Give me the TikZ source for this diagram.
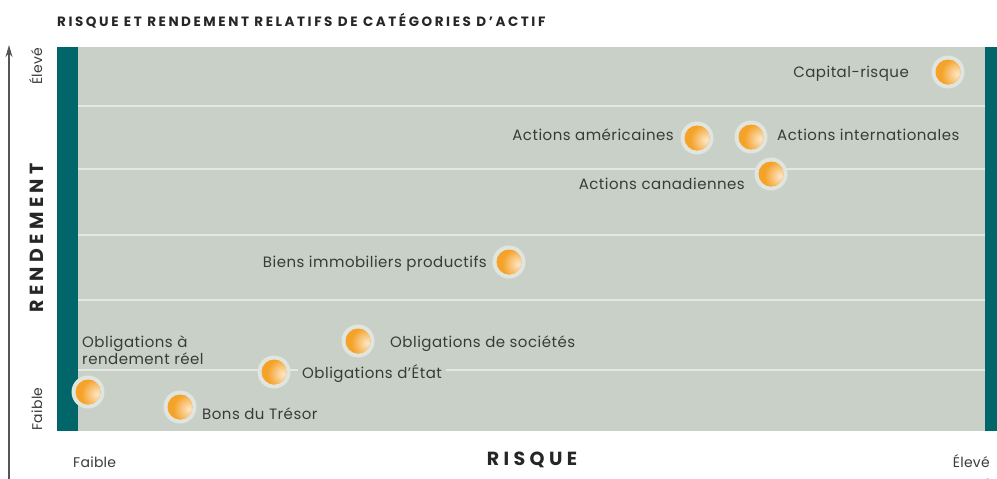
\documentclass[tikz,border=0pt]{standalone}
\usepackage{fontspec}
\setmainfont{Poppins}
\newfontfamily\lblfont[LetterSpace=3.2]{Poppins}
\newfontfamily\titlefont[LetterSpace=19]{Poppins}
\newfontfamily\axfont[LetterSpace=2]{Poppins}
\usetikzlibrary{arrows.meta}
\definecolor{panelgray}{HTML}{C9D0C8}
\definecolor{tealbar}{HTML}{00666A}
\definecolor{gridline}{HTML}{E4E8E2}
\definecolor{ringgray}{HTML}{E1E5DF}
\definecolor{orangedark}{HTML}{F5A228}
\definecolor{orangelight}{HTML}{FDE6C8}
\definecolor{txt}{HTML}{3A3A3A}
\definecolor{axisgray}{HTML}{555555}
\tikzset{
  lbl/.style={font=\lblfont\fontsize{15}{17}\selectfont, text=txt, fill=panelgray, inner xsep=4pt, inner ysep=1pt},
  ring/.style={circle, fill=ringgray, minimum size=33pt, inner sep=0pt},
  axistitle/.style={font=\fontsize{19}{22}\selectfont\bfseries, text=black!85},
  axislbl/.style={font=\axfont\fontsize{14}{16}\selectfont, text=txt},
  gridln/.style={draw=gridline, line width=1.6pt}
}
\newcommand{\mybubble}[3]{%
  \node[ring] (#1) at (#2,#3) {};
  \fill[orangedark] (#1.center) circle (12.5pt);
  \begin{scope}
    \clip (#1.center) circle (12.5pt);
    \shade[inner color=orangelight, outer color=orangedark] ([xshift=9pt,yshift=-2pt]#1.center) circle (16pt);
  \end{scope}
}
\newcommand{\gp}{\hspace{4.4pt}}
\begin{document}
\begin{tikzpicture}[x=1pt,y=-1pt]
\useasboundingbox (0,0) rectangle (997,479);
% panel
\fill[panelgray] (57,47) rectangle (997,431);
\fill[tealbar] (57,47) rectangle (78,431);
\fill[tealbar] (985,47) rectangle (997,431);
% grid lines
\foreach \yy in {106,169,235,300,370} {
  \coordinate (gl\yy) at (78,\yy);
  \coordinate (gr\yy) at (985,\yy);
  \draw[gridln] (gl\yy) -- (gr\yy);
}
% title
\node[anchor=base west, inner sep=0pt, font=\titlefont\fontsize{13.5}{15}\selectfont\bfseries, text=black!85] (title) at (57,26) {RISQUE ET RENDEMENT RELATIFS DE CATÉGORIES D’ACTIF};
% axes
\coordinate (ybot) at (9,490);
\coordinate (ytop) at (9,45);
\draw[axisgray, line width=1.6pt, -{Stealth[length=12pt,width=7pt]}] (ybot) -- (ytop);
\coordinate (xleft) at (9,482);
\coordinate (xright) at (999,482);
\draw[axisgray, line width=1.6pt, -{Stealth[length=12pt,width=7pt]}] (xleft) -- (xright);
\node[axistitle, rotate=90, anchor=base, inner sep=0pt] (rend) at (43,238) {R\gp E\gp N\gp D\gp E\gp M\gp E\gp N\gp T};
\node[axistitle, anchor=base, inner sep=0pt] (risq) at (532,465) {R\gp I\gp S\gp Q\gp U\gp E};
\node[axislbl, rotate=90, anchor=base, inner sep=0pt] (yhigh) at (42,66) {Élevé};
\node[axislbl, rotate=90, anchor=base, inner sep=0pt] (ylow) at (42,409) {Faible};
\node[axislbl, anchor=base west, inner sep=0pt] (xlow) at (73,467) {Faible};
\node[axislbl, anchor=base east, inner sep=0pt] (xhigh) at (990,467) {Élevé};
% bubbles
\mybubble{b1}{948}{72}
\mybubble{b2}{697}{138}
\mybubble{b3}{751}{137}
\mybubble{b4}{771}{174}
\mybubble{b5}{509}{262}
\mybubble{b6}{358}{341}
\mybubble{b7}{274}{372}
\mybubble{b8}{88}{392}
\mybubble{b9}{180}{407}
% labels
\node[lbl, anchor=base east] (l1) at (913,77) {Capital-risque};
\node[lbl, anchor=base east] (l2) at (678,140) {Actions américaines};
\node[lbl, anchor=base west] (l3) at (773,140) {Actions internationales};
\node[lbl, anchor=base east] (l4) at (749,189) {Actions canadiennes};
\node[lbl, anchor=base east] (l5) at (491,267) {Biens immobiliers productifs};
\node[lbl, anchor=base west] (l6) at (386,347) {Obligations de sociétés};
\node[lbl, anchor=base west] (l7) at (298,378) {Obligations d’État};
\node[lbl, anchor=base west, fill=none, align=left] (l8) at (78,364) {Obligations à\\rendement réel};
\node[lbl, anchor=base west] (l9) at (198,419) {Bons du Trésor};
\end{tikzpicture}
\end{document}
